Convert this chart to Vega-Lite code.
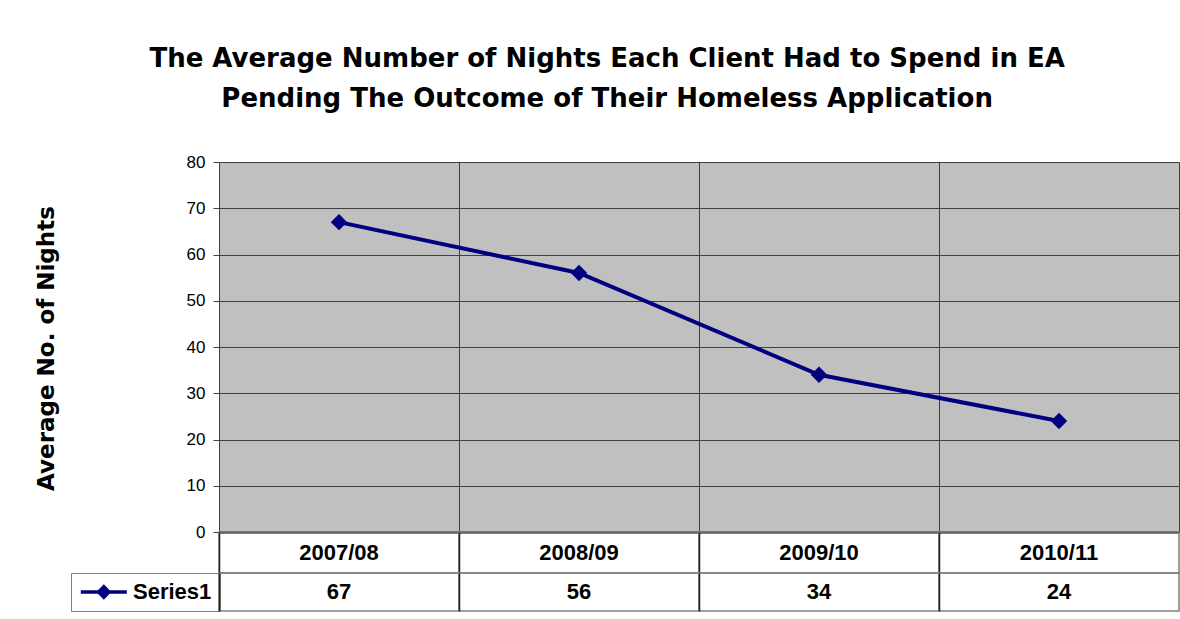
{
  "$schema": "https://vega.github.io/schema/vega-lite/v6.json",
  "background": "white",
  "padding": {"left": 34, "top": 45, "right": 0, "bottom": 0},
  "bounds": "flush",
  "spacing": 0,
  "title": {
    "text": ["The Average Number of Nights Each Client Had to Spend in EA", "Pending The Outcome of Their Homeless Application"],
    "font": "DejaVu Sans",
    "fontWeight": "bold",
    "fontSize": 26,
    "lineHeight": 40,
    "anchor": "middle",
    "color": "black",
    "offset": 41
  },
  "datasets": {
    "nights": [
      {"period": "2007/08", "value": 67, "series": "Series1"},
      {"period": "2008/09", "value": 56, "series": "Series1"},
      {"period": "2009/10", "value": 34, "series": "Series1"},
      {"period": "2010/11", "value": 24, "series": "Series1"}
    ]
  },
  "resolve": {"legend": {"color": "independent"}},
  "vconcat": [
    {
      "width": 960,
      "height": 370,
      "data": {"name": "nights"},
      "view": {"fill": "#c0c0c0", "stroke": "#404040", "strokeWidth": 1},
      "mark": {"type": "line", "strokeWidth": 4, "point": {"shape": "diamond", "size": 270, "filled": true}},
      "encoding": {
        "x": {
          "field": "period", "type": "nominal", "bandPosition": 0.5, "sort": null,
          "scale": {"type": "band", "paddingInner": 0, "paddingOuter": 0},
          "axis": {"title": null, "labels": false, "ticks": false, "grid": true, "bandPosition": 0,
                   "gridColor": "#404040", "gridWidth": 1, "domainColor": "#000000", "domainWidth": 2}
        },
        "y": {
          "field": "value", "type": "quantitative",
          "scale": {"domain": [0, 80], "nice": false},
          "axis": {
            "values": [0, 10, 20, 30, 40, 50, 60, 70, 80],
            "title": "Average No. of Nights",
            "titleFont": "DejaVu Sans", "titleFontWeight": "bold", "titleFontSize": 23, "titleColor": "black",
            "titleAngle": -90, "titleX": -173, "titleY": 186, "titleAlign": "center", "titleBaseline": "middle",
            "labelFont": "Liberation Sans", "labelFontSize": 17, "labelColor": "black", "labelPadding": 8,
            "tickSize": 6, "tickColor": "#404040", "domainColor": "#404040",
            "grid": true, "gridColor": "#404040", "gridWidth": 1
          }
        },
        "color": {
          "field": "series", "type": "nominal",
          "scale": {"range": ["#000080"]},
          "legend": {
            "orient": "none", "legendX": -148, "legendY": 411, "title": null,
            "symbolType": "M-1,-0.18L4,-0.18L4,0.18L-1,0.18Z M1.5,-0.83L2.33,0L1.5,0.83L0.67,0Z",
            "symbolSize": 339,
            "labelFont": "Liberation Sans", "labelFontWeight": "bold", "labelFontSize": 22, "labelColor": "black",
            "labelOffset": 32, "padding": 8, "strokeColor": "#808080", "fillColor": "white",
            "encode": {"symbols": {"update": {"fill": {"value": "#000080"}, "stroke": {"value": "transparent"}, "strokeWidth": {"value": 0}, "opacity": {"value": 1}}}}
          }
        }
      }
    },
    {
      "width": 960,
      "height": 41,
      "data": {"name": "nights"},
      "view": {"stroke": null},
      "encoding": {
        "x": {
          "field": "period", "type": "nominal", "bandPosition": 0.5, "sort": null,
          "scale": {"type": "band", "paddingInner": 0, "paddingOuter": 0},
          "axis": {"title": null, "labels": false, "ticks": false, "domain": false, "grid": true, "bandPosition": 0,
                   "gridColor": "#202020", "gridWidth": 1.5, "zindex": 1}
        }
      },
      "layer": [
        {"mark": {"type": "rect", "filled": false, "stroke": "#808080", "strokeWidth": 1.5},
         "encoding": {"x": {"field": "period", "type": "nominal", "sort": null, "scale": {"type": "band", "paddingInner": 0, "paddingOuter": 0}}}},
        {"mark": {"type": "text", "font": "Liberation Sans", "fontWeight": "bold", "fontSize": 22, "color": "black", "baseline": "middle"},
         "encoding": {"text": {"field": "period"}}}
      ]
    },
    {
      "width": 960,
      "height": 38,
      "data": {"name": "nights"},
      "view": {"stroke": null},
      "encoding": {
        "x": {
          "field": "period", "type": "nominal", "bandPosition": 0.5, "sort": null,
          "scale": {"type": "band", "paddingInner": 0, "paddingOuter": 0},
          "axis": {"title": null, "labels": false, "ticks": false, "domain": false, "grid": true, "bandPosition": 0,
                   "gridColor": "#202020", "gridWidth": 1.5, "zindex": 1}
        }
      },
      "layer": [
        {"mark": {"type": "rect", "filled": false, "stroke": "#808080", "strokeWidth": 1.5},
         "encoding": {"x": {"field": "period", "type": "nominal", "sort": null, "scale": {"type": "band", "paddingInner": 0, "paddingOuter": 0}}}},
        {"mark": {"type": "text", "font": "Liberation Sans", "fontWeight": "bold", "fontSize": 22, "color": "black", "baseline": "middle"},
         "encoding": {"text": {"field": "value"}}}
      ]
    }
  ]
}
